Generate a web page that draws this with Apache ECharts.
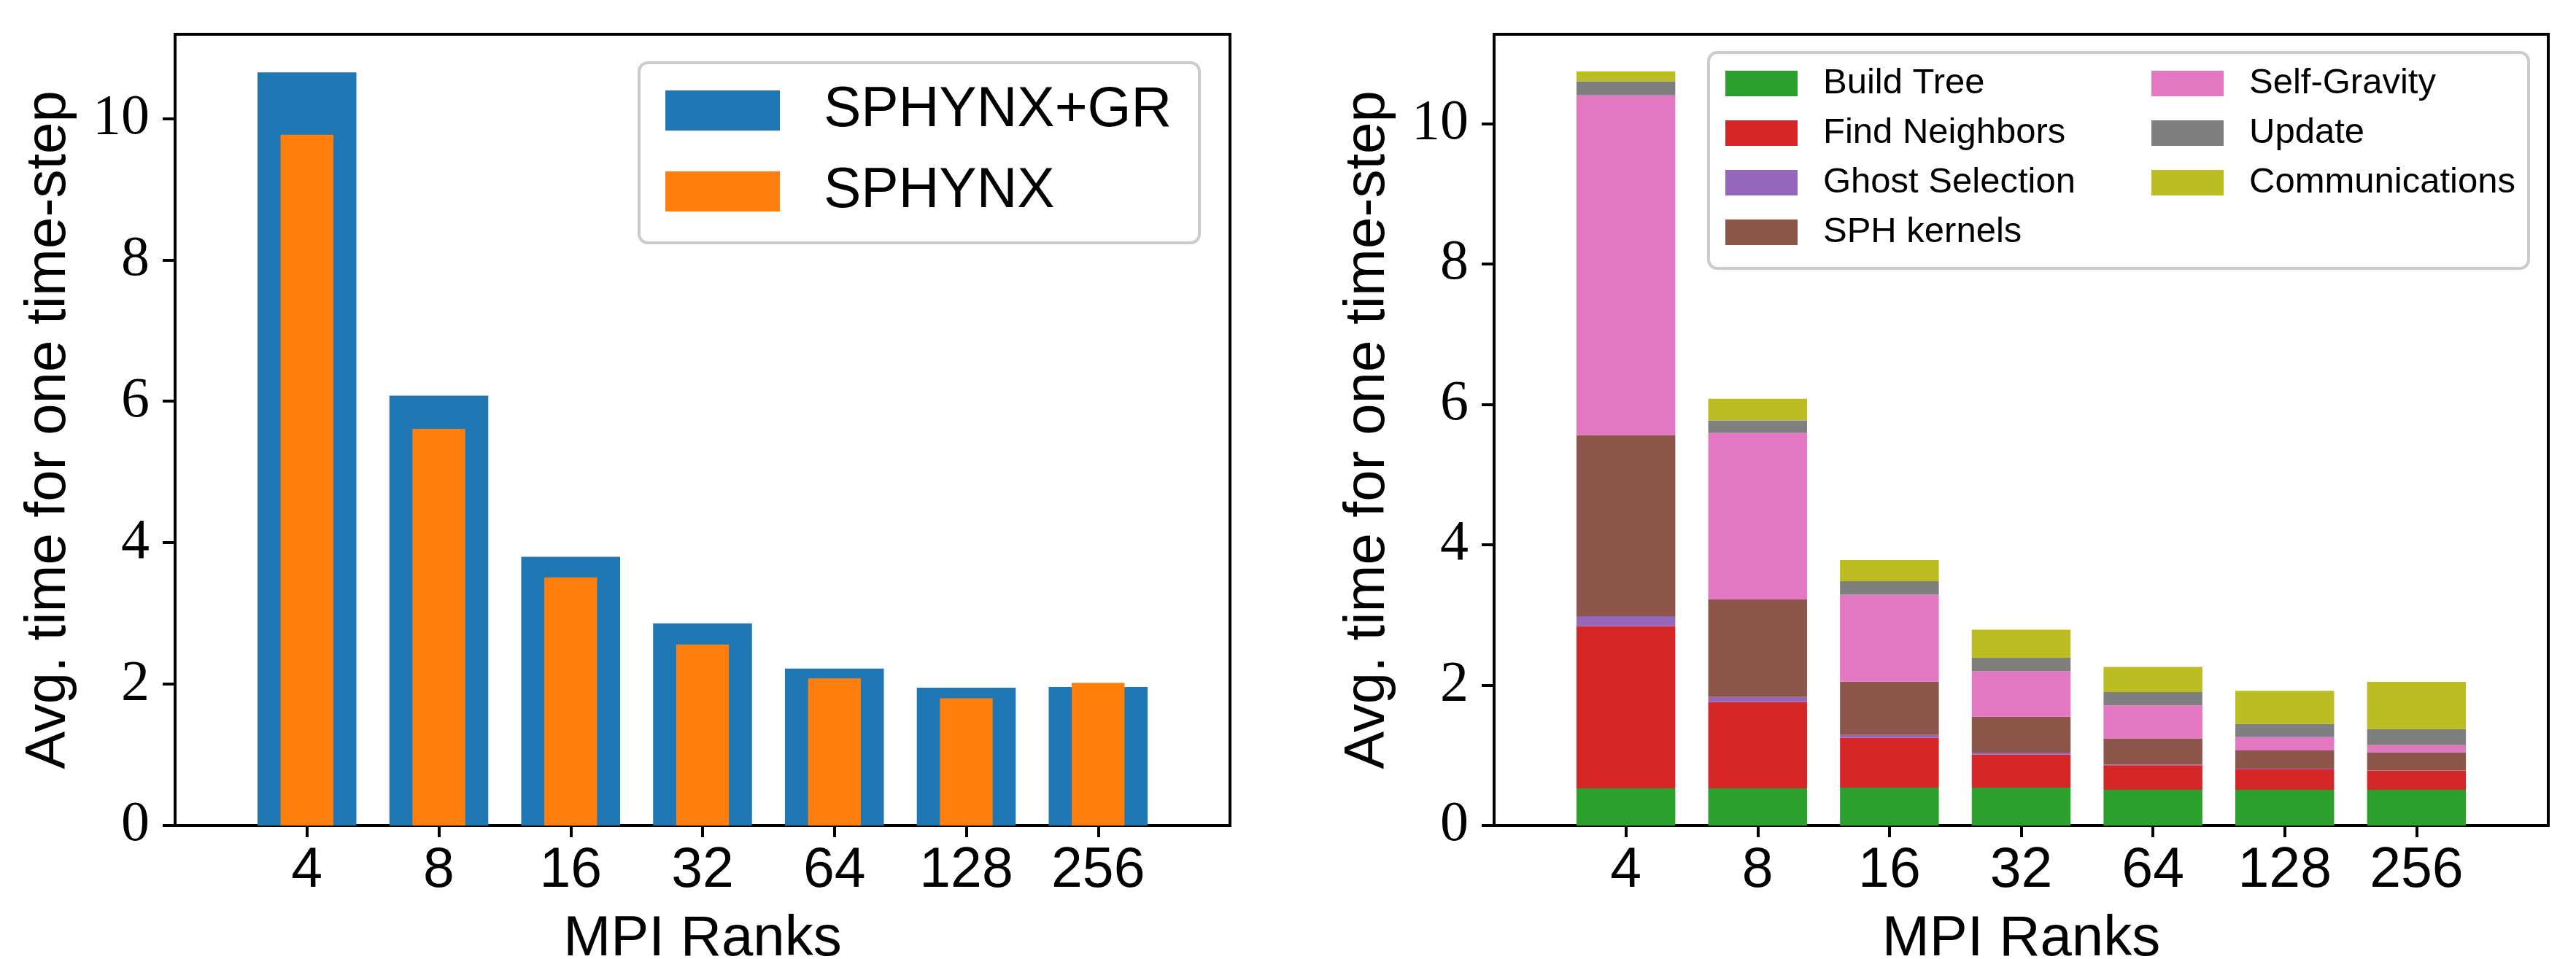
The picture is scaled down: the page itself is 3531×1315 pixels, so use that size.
<!DOCTYPE html>
<html>
<head>
<meta charset="utf-8">
<script src="https://cdn.jsdelivr.net/npm/echarts@6/dist/echarts.min.js"></script>
<style>
html, body { margin: 0; padding: 0; background: #fff; }
#main { width: 3531px; height: 1315px; }
</style>
</head>
<body>
<div id="main"></div>
<script>
// MPI ranks on the x axis
var ranks = ['4', '8', '16', '32', '64', '128', '256'];

// left panel: total time per step
var grTime = [10.65, 6.08, 3.80, 2.86, 2.22, 1.95, 1.96];
var baseTime = [9.77, 5.61, 3.51, 2.56, 2.08, 1.80, 2.02];

// right panel: breakdown of SPHYNX+GR
var buildTree = [0.53, 0.53, 0.54, 0.54, 0.51, 0.51, 0.51];
var findNeighbors = [2.31, 1.23, 0.71, 0.47, 0.35, 0.29, 0.27];
var ghostSelection = [0.14, 0.07, 0.04, 0.03, 0.01, 0.01, 0.005];
var sphKernels = [2.58, 1.39, 0.76, 0.51, 0.37, 0.26, 0.26];
var selfGravity = [4.84, 2.37, 1.24, 0.65, 0.47, 0.19, 0.10];
var update = [0.20, 0.18, 0.19, 0.19, 0.19, 0.19, 0.23];
var communications = [0.14, 0.31, 0.30, 0.40, 0.36, 0.47, 0.67];

var yTicks = [0, 2, 4, 6, 8, 10];

// one empty slot on each side, so the frame sits one step away from the outer bars
var cats = [''].concat(ranks, ['']);
function pad(arr) {
  return [null].concat(arr, [null]);
}

var sans = 'Liberation Sans';
var serif = 'Liberation Serif';

function xAxisFor(gridIndex, show) {
  return {
    type: 'category',
    gridIndex: gridIndex,
    data: cats,
    boundaryGap: false,
    show: show,
    axisLine: { show: false },
    axisTick: {
      show: true,
      length: 16,
      interval: function (i, v) { return v !== ''; },
      lineStyle: { color: '#000', width: 4 }
    },
    axisLabel: { interval: 0, margin: 24, color: '#000', fontFamily: sans, fontSize: 77 },
    splitLine: { show: false },
    name: 'MPI Ranks',
    nameLocation: 'middle',
    nameGap: 117,
    nameTextStyle: { color: '#000', fontFamily: sans, fontSize: 78 }
  };
}

function yAxisFor(gridIndex, max) {
  return {
    type: 'value',
    gridIndex: gridIndex,
    min: 0,
    max: max,
    interval: 2,
    axisLine: { show: false },
    axisTick: { show: true, length: 17, customValues: yTicks, lineStyle: { color: '#000', width: 4 } },
    axisLabel: { customValues: yTicks, margin: 35, color: '#000', fontFamily: serif, fontSize: 78 },
    splitLine: { show: false },
    name: 'Avg. time for one time-step',
    nameLocation: 'middle',
    nameGap: 134,
    nameTextStyle: { color: '#000', fontFamily: sans, fontSize: 78 }
  };
}

function stackBar(name, data, color) {
  return {
    name: name,
    type: 'bar',
    stack: 'parts',
    xAxisIndex: 2,
    yAxisIndex: 1,
    barWidth: '75%',
    itemStyle: { color: color },
    data: pad(data)
  };
}

var legendText = function (size, gap) {
  return { color: '#000', fontFamily: sans, fontSize: size, padding: [0, 0, 0, gap] };
};

var option = {
  animation: false,
  backgroundColor: '#fff',
  grid: [
    { left: 240, top: 47, width: 1446, height: 1085, show: true, borderColor: '#000', borderWidth: 4, outerBoundsMode: 'none', containLabel: false },
    { left: 2048, top: 47, width: 1445, height: 1085, show: true, borderColor: '#000', borderWidth: 4, outerBoundsMode: 'none', containLabel: false }
  ],
  xAxis: [xAxisFor(0, true), xAxisFor(0, false), xAxisFor(1, true)],
  yAxis: [yAxisFor(0, 11.19), yAxisFor(1, 11.27)],
  legend: [
    {
      data: ['SPHYNX+GR', 'SPHYNX'],
      orient: 'vertical',
      left: 907,
      top: 108,
      icon: 'rect',
      itemWidth: 157,
      itemHeight: 55,
      itemGap: 34,
      selectedMode: false,
      textStyle: legendText(77, 55)
    },
    {
      data: ['Build Tree', 'Find Neighbors', 'Ghost Selection', 'SPH kernels'],
      orient: 'vertical',
      left: 2360,
      top: 85,
      icon: 'rect',
      itemWidth: 99,
      itemHeight: 35,
      itemGap: 19,
      selectedMode: false,
      textStyle: legendText(49, 30)
    },
    {
      data: ['Self-Gravity', 'Update', 'Communications'],
      orient: 'vertical',
      left: 2944,
      top: 85,
      icon: 'rect',
      itemWidth: 99,
      itemHeight: 35,
      itemGap: 19,
      selectedMode: false,
      textStyle: legendText(49, 30)
    }
  ],
  graphic: [
    {
      type: 'rect', z: 3,
      shape: { x: 876, y: 86, width: 768, height: 247, r: 12 },
      style: { fill: 'rgba(255,255,255,0.8)', stroke: '#cccccc', lineWidth: 4 }
    },
    {
      type: 'rect', z: 3,
      shape: { x: 2342, y: 72, width: 1124, height: 296, r: 12 },
      style: { fill: 'rgba(255,255,255,0.8)', stroke: '#cccccc', lineWidth: 4 }
    }
  ],
  series: [
    {
      name: 'SPHYNX+GR',
      type: 'bar',
      xAxisIndex: 0,
      yAxisIndex: 0,
      barWidth: '75%',
      itemStyle: { color: '#1f77b4' },
      data: pad(grTime)
    },
    {
      name: 'SPHYNX',
      type: 'bar',
      xAxisIndex: 1,
      yAxisIndex: 0,
      barWidth: '40%',
      z: 3,
      itemStyle: { color: '#ff7f0e' },
      data: pad(baseTime)
    },
    stackBar('Build Tree', buildTree, '#2ca02c'),
    stackBar('Find Neighbors', findNeighbors, '#d62728'),
    stackBar('Ghost Selection', ghostSelection, '#9467bd'),
    stackBar('SPH kernels', sphKernels, '#8c564b'),
    stackBar('Self-Gravity', selfGravity, '#e377c2'),
    stackBar('Update', update, '#7f7f7f'),
    stackBar('Communications', communications, '#bcbd22')
  ]
};

var myChart = echarts.init(document.getElementById('main'));
myChart.setOption(option);
</script>
</body>
</html>
